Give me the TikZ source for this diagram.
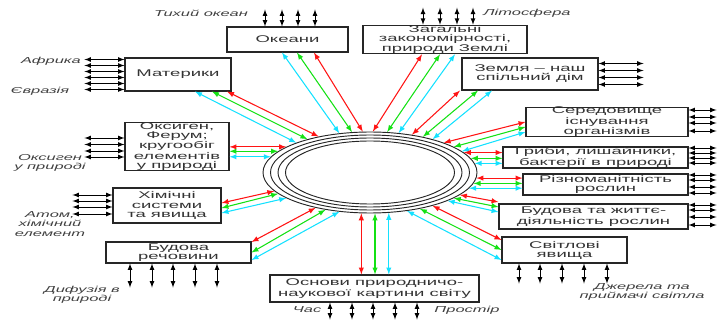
\documentclass[tikz,border=0pt]{standalone}
\usepackage{fontspec}
\setmainfont{Liberation Sans}[FakeStretch=1.9]
\usetikzlibrary{arrows, shapes.geometric, calc}

\definecolor{rayred}{RGB}{255,20,20}
\definecolor{raygreen}{RGB}{20,225,20}
\definecolor{raycyan}{RGB}{20,225,255}

\begin{document}
\begin{tikzpicture}[x=0.75pt, y=-0.75pt, >=latex,
		block/.style={draw=black!85, line width=0.8pt, inner sep=0pt, align=center, text=black!80, font=\fontsize{7.3}{6.8}\selectfont},
		note/.style={align=center, inner sep=0pt, text=black!75, font=\fontsize{6.5}{7}\selectfont\itshape},
		link/.style={<->, line width=0.65pt},
		ray/.style={<->, line width=0.8pt}]
	\useasboundingbox (0,0) rectangle (717,320);

	\node[draw, ellipse, line width=0.7pt, draw=black!85, minimum width=160.5pt, minimum height=60.75pt, inner sep=0pt] (core) at (370,172.5) {};
	\foreach \rx/\ry in {99.5/37.5, 92/34.5, 84.5/31.5}
		\draw[line width=0.7pt, black!85] (core.center) ellipse [x radius=\rx*0.75pt, y radius=\ry*0.75pt];

	\node[block, minimum width=90.75pt, minimum height=18.75pt] (ocean) at (287.5,39.5) {Океани};
	\node[block, minimum width=123pt, minimum height=18.75pt] (laws) at (445,39.5) {Загальні\\закономірності,\\природи Землі};
	\node[block, minimum width=102pt, minimum height=24pt] (earth) at (530,74) {Земля – наш\\спільний дім};
	\node[block, minimum width=79.5pt, minimum height=24.75pt] (cont) at (178,74.5) {Материки};
	\node[block, minimum width=78pt, minimum height=33.75pt] (oxy) at (177,146.5) {Оксиген,\\Ферум;\\кругообіг\\елементів\\у природі};
	\node[block, minimum width=81pt, minimum height=26.25pt] (chem) at (167,205.5) {Хімічні\\системи\\та явища};
	\node[block, minimum width=108.75pt, minimum height=15.75pt] (subst) at (178.5,252.5) {Будова\\речовини};
	\node[block, minimum width=156.75pt, minimum height=20.25pt] (basis) at (374.5,288.5) {Основи природничо-\\наукової картини світу};
	\node[block, minimum width=93.75pt, minimum height=19.5pt] (light) at (564.5,250) {Світлові\\явища};
	\node[block, minimum width=121.5pt, minimum height=21pt] (habitat) at (607,122) {Середовище\\існування\\організмів};
	\node[block, minimum width=138.75pt, minimum height=15.75pt] (fungi) at (595.5,157.5) {Гриби, лишайники,\\бактерії в природі};
	\node[block, minimum width=123.75pt, minimum height=15.75pt] (plants) at (605.5,184.5) {Різноманітність\\рослин};
	\node[block, minimum width=141.75pt, minimum height=18.75pt] (life) at (593.5,216.5) {Будова та життє-\\діяльність рослин};

	\node[note] (pacific) at (201,13) {Тихий океан};
	\node[note] (litho) at (527,13) {Літосфера};
	\node[note] (africa) at (51,61) {Африка};
	\node[note] (eurasia) at (40,91) {Євразія};
	\node[note] (oxygen) at (50,163) {Оксиген\\у природі};
	\node[note] (atom) at (50,224) {Атом,\\хімічний\\елемент};
	\node[note] (diff) at (82,295) {Дифузія в\\природі};
	\node[note] (time) at (307,310) {Час};
	\node[note] (space) at (467,310) {Простір};
	\node[note] (source) at (642,292) {Джерела та\\приймачі світла};

	\foreach \dx in {-22.5, -5.5, 10.5, 27.5}
		\draw[link] ($(ocean.north)+(\dx,0)$) -- ++(0,-17);
	\foreach \dx in {-22, -5, 12, 28}
		\draw[link] ($(laws.north)+(\dx,0)$) -- ++(0,-17);
	\foreach \dy in {-15, -9, -3, 3, 9, 15}
		\draw[link] ($(cont.west)+(0,\dy)$) -- ++(-40,0);
	\foreach \dy in {-10.5, -3.5, 3.5, 10.5}
		\draw[link] ($(earth.east)+(0,\dy)$) -- ++(45,0);
	\foreach \dy in {-8.5, -2, 4.5, 10.5}
		\draw[link] ($(oxy.west)+(0,\dy)$) -- ++(-40,0);
	\foreach \dy in {-10.5, -4.5, 1.5, 8.5}
		\draw[link] ($(chem.west)+(0,\dy)$) -- ++(-40,0);
	\foreach \dx in {-48.5, -26.5, -5.5, 16.5, 38.5}
		\draw[link] ($(subst.south)+(\dx,0)$) -- ++(0,24);
	\foreach \dx in {-44.5, -22.5, -1.5, 20.5, 42.5}
		\draw[link] ($(basis.south)+(\dx,0)$) -- ++(0,17);
	\foreach \dx in {-45.5, -24.5, -2.5, 19.5, 42.5}
		\draw[link] ($(light.south)+(\dx,0)$) -- ++(0,20);
	\foreach \dy in {-12, -5, 1, 9}
		\draw[link] ($(habitat.east)+(0,\dy)$) -- ++(28,0);
	\foreach \dy in {-9.5, -4.5, 0.5, 5.5}
		\draw[link] ($(fungi.east)+(0,\dy)$) -- ++(28,0);
	\foreach \dy in {-9.5, -4.5, 2.5, 8.5}
		\draw[link] ($(plants.east)+(0,\dy)$) -- ++(28,0);
	\foreach \dy in {-11.5, -6.5, 0.5, 8.5}
		\draw[link] ($(life.east)+(0,\dy)$) -- ++(28,0);

	\foreach \c/\dx/\a in {raycyan/-5.5/128.5, raygreen/9.5/114.7, rayred/26.5/100}
		\draw[ray, \c] ($(ocean.south)+(\dx,0)$) -- (core.\a);
	\foreach \c/\dx/\a in {rayred/-23/86, raygreen/-5/67.5, raycyan/10/54.8}
		\draw[ray, \c] ($(laws.south)+(\dx,0)$) -- (core.\a);
	\foreach \c/\dx/\a in {rayred/-70/42, raygreen/-52/34.3, raycyan/-38/28.2}
		\draw[ray, \c] ($(earth.south)+(\dx,0)$) -- (core.\a);
	\foreach \c/\dy/\a in {rayred/0/22.2, raygreen/5/17.3, raycyan/10/13.7}
		\draw[ray, \c] ($(habitat.west)+(0,\dy)$) -- (core.\a);
	\foreach \c/\a in {rayred/12.5, raygreen/8.6, raycyan/5.2}
		\draw[ray, \c] (core.\a) -- (core.\a -| fungi.west);
	\foreach \c/\a in {rayred/357.6, raygreen/354.2, raycyan/351.1}
		\draw[ray, \c] (core.\a) -- (core.\a -| plants.west);
	\foreach \c/\dy/\a in {rayred/-14.5/346.1, raygreen/-9.5/343, raycyan/-4.5/340.2}
		\draw[ray, \c] ($(life.west)+(0,\dy)$) -- (core.\a);
	\foreach \c/\dy/\a in {rayred/-10/332.1, raygreen/0/324, raycyan/10/314.6}
		\draw[ray, \c] ($(light.west)+(0,\dy)$) -- (core.\a);
	\foreach \c/\a in {rayred/258.8, raygreen/277, raycyan/295.5}
		\draw[ray, \c] (core.\a) -- (core.\a |- basis.north);
	\foreach \c/\dy/\a in {rayred/-10.5/213.6, raygreen/0/220.7, raycyan/7.5/232.4}
		\draw[ray, \c] ($(subst.east)+(0,\dy)$) -- (core.\a);
	\foreach \c/\dy/\a in {rayred/-2.5/191, raygreen/2.5/193.9, raycyan/7.5/197.4}
		\draw[ray, \c] ($(chem.east)+(0,\dy)$) -- (core.\a);
	\foreach \c/\a in {rayred/163, raygreen/167.5, raycyan/171.1}
		\draw[ray, \c] (core.\a) -- (core.\a -| oxy.east);
	\foreach \c/\dx/\a in {rayred/49/145.7, raygreen/34/152.8, raycyan/17/158}
		\draw[ray, \c] ($(cont.south)+(\dx,0)$) -- (core.\a);
\end{tikzpicture}
\end{document}
